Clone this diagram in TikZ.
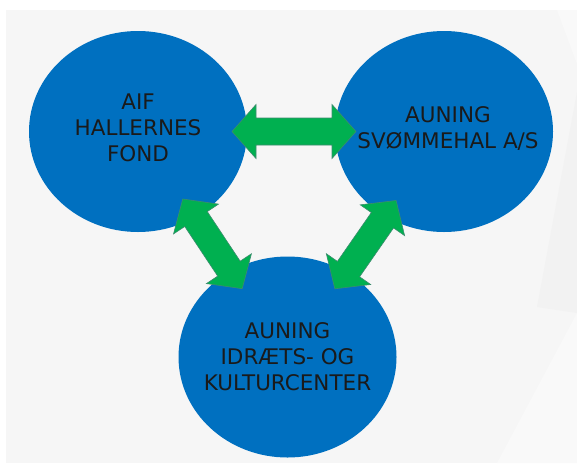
\documentclass[tikz,border=0pt]{standalone}
\usepackage{fontspec}
\setmainfont{DejaVu Sans}
\usetikzlibrary{shapes.geometric,calc}

\definecolor{panelgray}{HTML}{F6F6F6}
\definecolor{panellight}{HTML}{F9F9F9}
\definecolor{paneldark}{HTML}{F2F2F2}
\definecolor{orgblue}{HTML}{0070C0}
\definecolor{orgtext}{HTML}{1A1A1A}
\definecolor{arrowgreen}{HTML}{00B050}
\definecolor{arrowline}{HTML}{3C8C6E}

\tikzset{
  org/.style={ellipse, fill=orgblue, minimum width=218pt, minimum height=201pt,
    inner sep=0pt},
  orgtext/.style={align=center, text=orgtext, inner sep=0pt,
    font=\fontsize{21.5}{26}\selectfont},
  twowayarrow/.style={fill=arrowgreen, draw=arrowline, line width=0.6pt, line join=miter}
}

% block arrow with two heads between two named tips
\newcommand{\twoway}[2]{%
  \coordinate (la) at ($(#1)!24pt!(#2)$);
  \coordinate (lb) at ($(#2)!24pt!(#1)$);
  \draw[twowayarrow] (#1) -- ($(la)!27pt!90:(#2)$) -- ($(la)!13.5pt!90:(#2)$)
    -- ($(lb)!13.5pt!-90:(#1)$) -- ($(lb)!27pt!-90:(#1)$) -- (#2)
    -- ($(lb)!27pt!90:(#1)$) -- ($(lb)!13.5pt!90:(#1)$)
    -- ($(la)!13.5pt!-90:(#2)$) -- ($(la)!27pt!-90:(#2)$) -- cycle;
}

\begin{document}
\begin{tikzpicture}[x=1pt,y=-1pt]
\useasboundingbox (0,0) rectangle (577,464);

% background panel
\fill[panelgray] (6,10) rectangle (577,463);
\fill[panellight] (557,10) -- (577,10) -- (577,64) -- cycle;
\fill[paneldark] (577,92) -- (537,307) -- (577,313) -- cycle;
\fill[panellight] (577,313) -- (497,463) -- (577,463) -- cycle;

% the three bodies
\node[org] (fond) at (138,131.5) {};
\node[org] (hal) at (444,131.5) {};
\node[org] (kultur) at (287.5,357) {};

\node[orgtext] (fondtext) at ($(fond)+(0,-4)$) {AIF\\HALLERNES\\FOND};
\node[orgtext] (haltext) at ($(hal)+(4,-3)$) {AUNING\\SVØMMEHAL A/S};
\node[orgtext] (kulturtext) at (kultur) {AUNING\\IDRÆTS- OG\\KULTURCENTER};

% arrow tips
\coordinate (h1) at ($(fond)!94pt!(hal)$);
\coordinate (h2) at ($(hal)!88pt!(fond)$);
\coordinate (l1) at ($(fond)!81pt!(kultur)$);
\coordinate (l2) at ($(kultur)!82pt!(fond)$);
\coordinate (r1) at ($(hal)!84pt!(kultur)$);
\coordinate (r2) at ($(kultur)!83pt!(hal)$);

\twoway{h1}{h2}
\twoway{l1}{l2}
\twoway{r1}{r2}

\end{tikzpicture}
\end{document}
